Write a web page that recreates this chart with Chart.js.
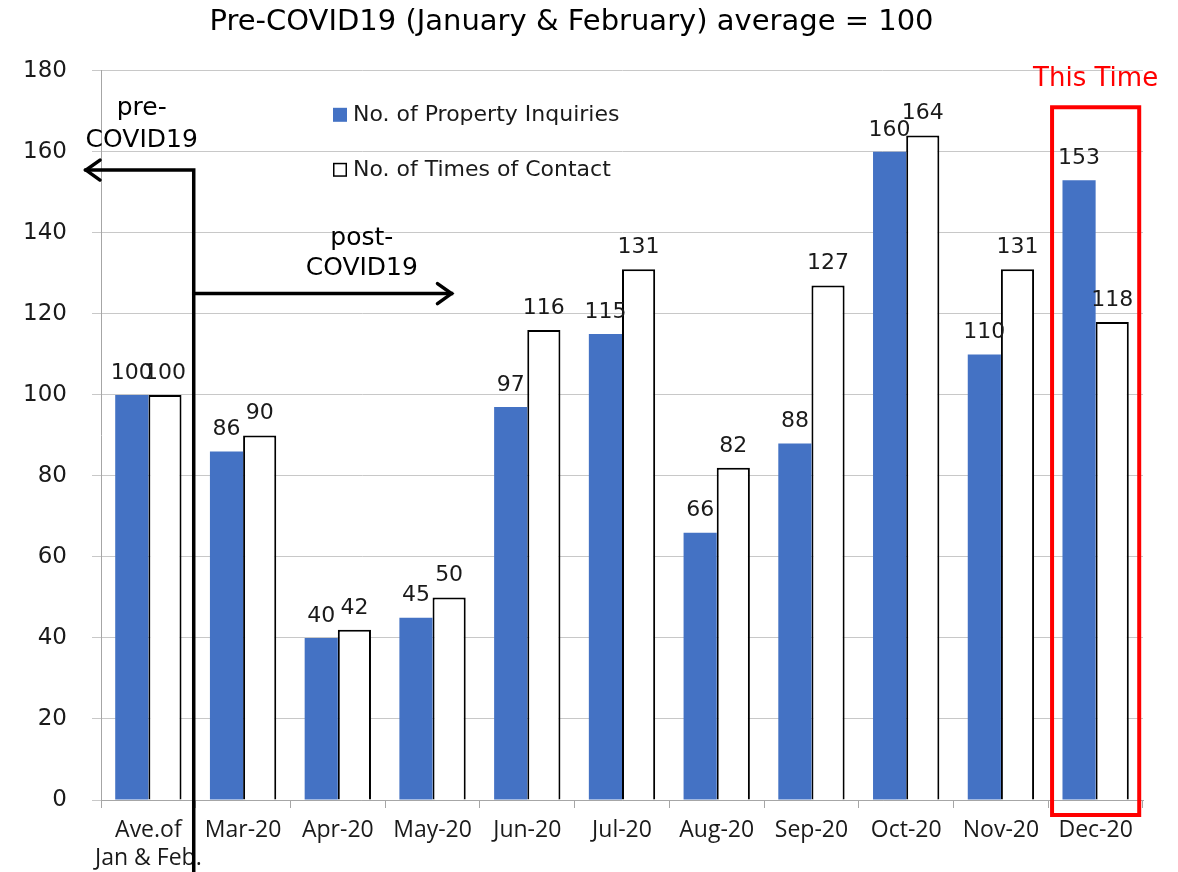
<!DOCTYPE html>
<html>
<head>
<meta charset="utf-8">
<script src="https://cdn.jsdelivr.net/npm/chart.js@4.4.0/dist/chart.umd.min.js"></script>
<style>
  html, body { margin: 0; padding: 0; background: #fff; }
  canvas { display: block; }
</style>
</head>
<body>
<canvas id="chart" width="1178" height="872"></canvas>
<script>
// values (index: pre-COVID average = 100)
const months = [['Ave.of', 'Jan & Feb.'], 'Mar-20', 'Apr-20', 'May-20', 'Jun-20', 'Jul-20',
  'Aug-20', 'Sep-20', 'Oct-20', 'Nov-20', 'Dec-20'];
const inquiries = [100, 86, 40, 45, 97, 115, 66, 88, 160, 110, 153];
const contacts = [100, 90, 42, 50, 116, 131, 82, 127, 164, 131, 118];
const yMin = 0;
const yMax = 180;
const yStep = 20;

const titleText = 'Pre-COVID19 (January & February) average = 100';
const seriesNames = ['No. of Property Inquiries', 'No. of Times of Contact'];
const preLabel = ['pre-', 'COVID19'];
const postLabel = ['post-', 'COVID19'];
const highlightLabel = 'This Time';

const FONT = '"DejaVu Sans", Verdana, sans-serif';

// numbers above each bar
const valueLabels = {
  id: 'valueLabels',
  afterDatasetsDraw(chart) {
    const ctx = chart.ctx;
    ctx.save();
    ctx.font = '22px ' + FONT;
    ctx.fillStyle = '#1a1a1a';
    ctx.textAlign = 'center';
    ctx.textBaseline = 'bottom';
    chart.data.datasets.forEach((ds, i) => {
      chart.getDatasetMeta(i).data.forEach((bar, j) => {
        ctx.fillText(String(ds.data[j]), bar.x, bar.y - 11);
      });
    });
    ctx.restore();
  }
};

// legend sitting inside the plot area
const innerLegend = {
  id: 'innerLegend',
  afterDraw(chart) {
    const ctx = chart.ctx;
    const area = chart.chartArea;
    const x0 = area.left + 232;
    const y0 = area.top + 44;
    ctx.save();
    ctx.font = '22px ' + FONT;
    ctx.textBaseline = 'middle';
    chart.data.datasets.forEach((ds, i) => {
      const y = y0 + i * 55;
      ctx.fillStyle = ds.backgroundColor;
      ctx.fillRect(x0, y - 7, 14, 14);
      if (ds.borderWidth) {
        ctx.strokeStyle = '#000';
        ctx.lineWidth = 1.5;
        ctx.strokeRect(x0 + 0.75, y - 6.25, 12.5, 12.5);
      }
      ctx.fillStyle = '#1a1a1a';
      ctx.fillText(ds.label, x0 + 20, y);
    });
    ctx.restore();
  }
};

function arrowHead(ctx, x, y, dir) {
  ctx.beginPath();
  ctx.moveTo(x - dir * 14, y - 10);
  ctx.lineTo(x, y);
  ctx.lineTo(x - dir * 14, y + 10);
  ctx.stroke();
}

// pre/post arrows and the red "This Time" box
const annotations = {
  id: 'annotations',
  afterDraw(chart) {
    const ctx = chart.ctx;
    const xs = chart.scales.x;
    const ys = chart.scales.y;
    const area = chart.chartArea;
    const step = xs.getPixelForValue(1) - xs.getPixelForValue(0);
    const divX = (xs.getPixelForValue(0) + xs.getPixelForValue(1)) / 2 - 2;
    const preY = ys.getPixelForValue(155.5);
    const postY = ys.getPixelForValue(125);

    ctx.save();
    ctx.strokeStyle = '#000';
    ctx.lineWidth = 3.5;
    ctx.lineCap = 'square';
    ctx.beginPath();
    ctx.moveTo(divX, chart.height);
    ctx.lineTo(divX, preY);
    ctx.lineTo(area.left - 15, preY);
    ctx.stroke();
    ctx.beginPath();
    ctx.moveTo(divX, postY);
    ctx.lineTo(xs.getPixelForValue(3) + step * 0.2, postY);
    ctx.stroke();
    ctx.lineCap = 'round';
    arrowHead(ctx, area.left - 15, preY, -1);
    arrowHead(ctx, xs.getPixelForValue(3) + step * 0.2, postY, 1);

    ctx.fillStyle = '#000';
    ctx.font = '25px ' + FONT;
    ctx.textAlign = 'center';
    ctx.textBaseline = 'middle';
    const preX = divX - 52;
    ctx.fillText(preLabel[0], preX, preY - 62);
    ctx.fillText(preLabel[1], preX, preY - 30);
    const postX = xs.getPixelForValue(2) + 24;
    ctx.fillText(postLabel[0], postX, postY - 55);
    ctx.fillText(postLabel[1], postX, postY - 25);

    const last = months.length - 1;
    const cx = xs.getPixelForValue(last);
    const half = step * 0.46;
    const top = ys.getPixelForValue(171);
    const bottom = ys.getPixelForValue(yMin) + 15;
    ctx.strokeStyle = '#ff0000';
    ctx.lineWidth = 4;
    ctx.lineCap = 'butt';
    ctx.strokeRect(cx - half, top, half * 2, bottom - top);
    ctx.fillStyle = '#ff0000';
    ctx.font = '26px ' + FONT;
    ctx.fillText(highlightLabel, cx, area.top + 8);
    ctx.restore();
  }
};

new Chart(document.getElementById('chart'), {
  type: 'bar',
  data: {
    labels: months,
    datasets: [
      {
        label: seriesNames[0],
        data: inquiries,
        backgroundColor: '#4472c4',
        borderWidth: 0,
        categoryPercentage: 0.7,
        barPercentage: 1.0
      },
      {
        label: seriesNames[1],
        data: contacts,
        backgroundColor: '#ffffff',
        borderColor: '#000000',
        borderWidth: 2,
        categoryPercentage: 0.7,
        barPercentage: 1.0
      }
    ]
  },
  options: {
    responsive: false,
    animation: false,
    layout: { padding: { left: 0, right: 35, top: 0, bottom: 0 } },
    plugins: {
      legend: { display: false },
      tooltip: { enabled: false },
      title: {
        display: true,
        text: titleText,
        color: '#000',
        font: { family: FONT, size: 29, weight: 'normal' },
        padding: { top: 5, bottom: 31 }
      }
    },
    scales: {
      x: {
        grid: { drawOnChartArea: false, tickLength: 8, color: '#a6a6a6', offset: true },
        border: { color: '#a6a6a6' },
        ticks: {
          color: '#1a1a1a',
          font: { family: '"Open Sans", sans-serif', size: 23 },
          padding: 9,
          maxRotation: 0,
          autoSkip: false
        },
        afterFit(scale) { scale.height = 72; }
      },
      y: {
        min: yMin,
        max: yMax,
        grid: { color: '#c8c8c8', tickLength: 9 },
        border: { color: '#a6a6a6' },
        ticks: {
          stepSize: yStep,
          color: '#1a1a1a',
          font: { family: FONT, size: 23 },
          padding: 25
        },
        afterFit(scale) { scale.width = 101; }
      }
    }
  },
  plugins: [valueLabels, innerLegend, annotations]
});
</script>
</body>
</html>
